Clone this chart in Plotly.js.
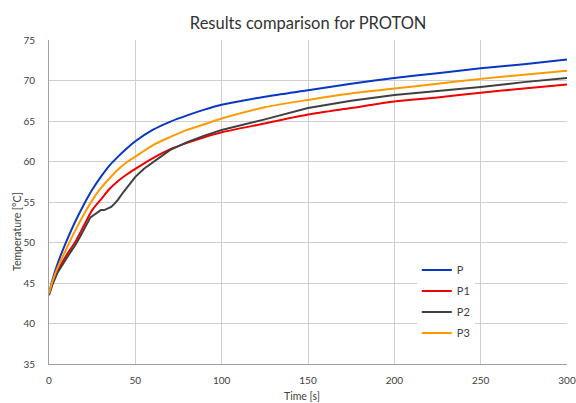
<!DOCTYPE html>
<html>
<head>
<meta charset="utf-8">
<script src="https://cdn.plot.ly/plotly-3.0.1.min.js"></script>
<style>html,body{margin:0;padding:0;background:#fff;}#chart{width:576px;height:403px;}</style>
</head>
<body>
<div id="chart"></div>
<script>
// Time axis samples [s]
var timeP  = [0, 2, 5, 10, 15, 20, 25, 30, 35, 40, 45, 50, 60, 70, 80, 90, 100, 125, 150, 175, 200, 225, 250, 275, 300];
var valP   = [43.6, 45.4, 47.4, 50.1, 52.5, 54.6, 56.5, 58.1, 59.5, 60.6, 61.6, 62.5, 63.9, 64.9, 65.7, 66.4, 67.0, 68.0, 68.8, 69.6, 70.3, 70.9, 71.5, 72.0, 72.6];
var valP3  = [43.7, 45.2, 46.9, 49.2, 51.4, 53.4, 55.2, 56.7, 57.9, 59.0, 59.9, 60.6, 62.0, 63.0, 63.9, 64.6, 65.3, 66.7, 67.6, 68.4, 69.0, 69.6, 70.2, 70.7, 71.2];
var valP1  = [43.7, 45.0, 46.5, 48.4, 50.0, 52.0, 54.0, 55.3, 56.6, 57.6, 58.4, 59.1, 60.4, 61.5, 62.3, 63.0, 63.6, 64.7, 65.8, 66.6, 67.4, 67.9, 68.5, 69.0, 69.5];
var timeP2 = [0, 2, 5, 8, 10, 13, 15, 18, 20, 22, 24, 26, 28, 30, 32, 34, 36, 38, 40, 43, 46, 50, 55, 60, 70, 80, 90, 100, 125, 150, 175, 200, 225, 250, 275, 300];
var valP2  = [43.5, 44.8, 46.3, 47.4, 48.0, 49.0, 49.6, 50.7, 51.5, 52.4, 53.1, 53.4, 53.7, 54.0, 54.0, 54.2, 54.4, 54.8, 55.3, 56.2, 57.0, 58.1, 59.1, 59.9, 61.4, 62.4, 63.2, 63.9, 65.2, 66.6, 67.5, 68.2, 68.7, 69.2, 69.8, 70.3];

var names  = ['P', 'P1', 'P2', 'P3'];
var colors = ['#0a36c4', '#f00000', '#404040', '#ff9900'];

var FONT = 'Lato, "Open Sans", sans-serif';

var traces = [
  {x: timeP,  y: valP,  name: names[0], line: {color: colors[0], width: 2, shape: 'spline', smoothing: 0.7}},
  {x: timeP,  y: valP1, name: names[1], line: {color: colors[1], width: 2, shape: 'spline', smoothing: 0.7}},
  {x: timeP2, y: valP2, name: names[2], line: {color: colors[2], width: 2}},
  {x: timeP,  y: valP3, name: names[3], line: {color: colors[3], width: 2, shape: 'spline', smoothing: 0.7}}
].map(function (t, i) { t.type = 'scatter'; t.mode = 'lines'; t.legendgroup = 'g' + i; return t; });

var layout = {
  width: 576, height: 403,
  margin: {l: 49, r: 9, t: 40, b: 39},
  paper_bgcolor: '#fff', plot_bgcolor: '#fff',
  font: {family: FONT, size: 11, color: '#404040'},
  title: {text: 'Results comparison for PROTON', font: {family: FONT, size: 16.5, color: '#333'}, x: 0.535, xanchor: 'center', y: 0.942, yanchor: 'middle'},
  xaxis: {
    range: [0, 300], dtick: 50, tick0: 0,
    showgrid: true, gridcolor: '#cfcfcf', gridwidth: 1,
    showline: true, linecolor: '#a0a0a0', linewidth: 1,
    zeroline: false, ticks: '', ticklabelstandoff: 7, ticklabeloverflow: 'allow',
    tickfont: {size: 10, color: '#404040'}
  },
  yaxis: {
    range: [35, 75], dtick: 5, tick0: 35,
    showgrid: true, gridcolor: '#cfcfcf', gridwidth: 1,
    showline: true, linecolor: '#a0a0a0', linewidth: 1,
    zeroline: false, ticks: '', ticklabelstandoff: 11,
    tickfont: {size: 10, color: '#404040'}
  },
  annotations: [
    {text: 'Time [s]', xref: 'paper', yref: 'paper', x: (302 - 49) / 518, y: -(396 - 364) / 324,
     xanchor: 'center', yanchor: 'middle', showarrow: false, font: {size: 10.5, color: '#404040'}},
    {text: 'Temperature [°C]', xref: 'paper', yref: 'paper', x: (17 - 49) / 518, y: (364 - 232) / 324,
     xanchor: 'center', yanchor: 'middle', textangle: -90, showarrow: false, font: {size: 10.5, color: '#404040'}}
  ],
  showlegend: true,
  legend: {
    x: 0.71, y: 0.335, xanchor: 'left', yanchor: 'top',
    bgcolor: '#fff', borderwidth: 0, traceorder: 'grouped', tracegroupgap: 2,
    font: {size: 11, color: '#404040'},
    itemwidth: 30
  }
};

Plotly.newPlot('chart', traces, layout, {displayModeBar: false, staticPlot: true});
</script>
</body>
</html>
